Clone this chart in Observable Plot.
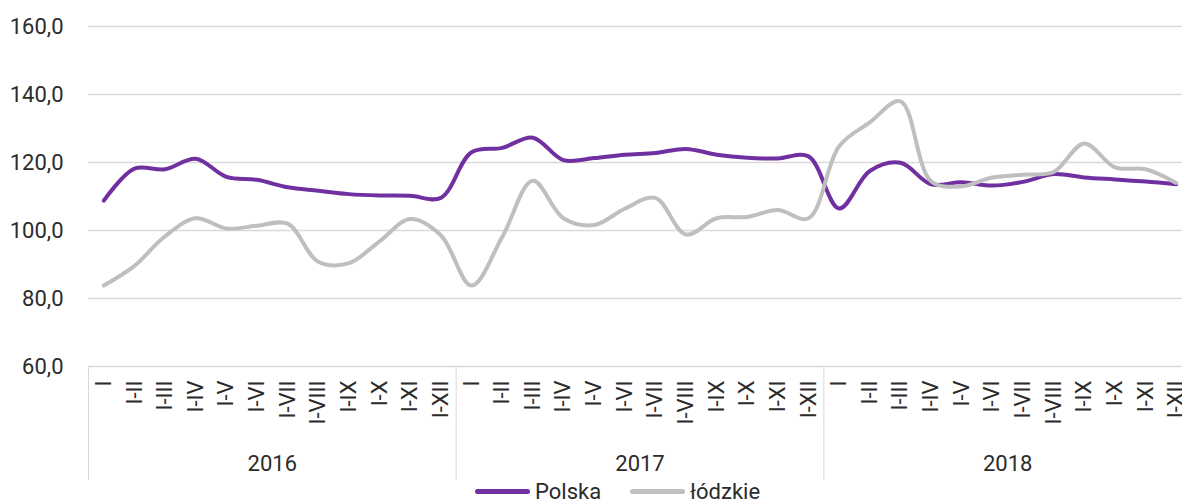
<!DOCTYPE html>
<html>
<head>
<meta charset="utf-8">
<script src="https://cdn.jsdelivr.net/npm/d3@7"></script>
<script src="https://cdn.jsdelivr.net/npm/@observablehq/plot@0.6"></script>
<style>
  html, body { margin: 0; padding: 0; background: #fff; }
  body { width: 1182px; height: 503px; overflow: hidden; font-family: Roboto, "Open Sans", sans-serif; color: #2b2b2b; }
  #legend { display: flex; align-items: center; height: 23px; margin-left: 475px; font-size: 22px; line-height: 23px; }
  .item { display: flex; align-items: center; margin-right: 29px; }
  .sw { width: 55px; height: 5px; border-radius: 2.5px; margin-right: 5px; }
</style>
</head>
<body>
<div id="chart"></div>
<div id="legend"></div>
<script>
const months = ["I","I-II","I-III","I-IV","I-V","I-VI","I-VII","I-VIII","I-IX","I-X","I-XI","I-XII"];
const years = ["2016","2017","2018"];
const seriesNames = ["Polska","łódzkie"];
const seriesColors = ["#7030A0","#BFBFBF"];
const yTicks = [60, 80, 100, 120, 140, 160];

const polska = [
  108.8, 118.2, 118.0, 121.1, 115.8, 114.9, 112.7, 111.7, 110.7, 110.3, 110.2, 109.6,
  123.0, 124.3, 127.3, 120.7, 121.3, 122.3, 122.8, 124.0, 122.3, 121.4, 121.2, 121.8,
  106.5, 117.5, 119.9, 113.6, 114.2, 113.2, 114.3, 116.6, 115.6, 115.0, 114.4, 113.6
];
const lodzkie = [
   83.8,  89.6,  98.3, 103.6, 100.6, 101.4, 102.0,  90.8,  90.4,  96.8, 103.4,  98.6,
   83.8,  98.0, 114.6, 103.6, 101.6, 106.4, 109.6,  98.8, 103.6, 104.0, 106.0, 103.6,
  124.8, 131.8, 138.0, 114.5, 113.0, 115.6, 116.4, 117.2, 125.6, 118.6, 118.0, 114.0
];

const rows = [];
const valuesBySeries = [polska, lodzkie];
seriesNames.forEach((s, k) => {
  valuesBySeries[k].forEach((v, i) => rows.push({series: s, i, value: v}));
});

const fmt = d => d.toFixed(1).replace(".", ",");
const n = years.length * months.length;

const chart = Plot.plot({
  width: 1182,
  height: 480,
  marginLeft: 88,
  marginRight: 0,
  marginTop: 26,
  marginBottom: 114,
  style: {fontFamily: "Roboto, 'Open Sans', sans-serif", fontSize: "22px", color: "#2b2b2b", background: "#fff"},
  x: {type: "linear", domain: [-0.5, n - 0.5], range: [88, 1191]},
  y: {domain: [60, 160]},
  color: {domain: seriesNames, range: seriesColors},
  marks: [
    Plot.gridY({ticks: yTicks, stroke: "#d9d9d9", strokeOpacity: 1, strokeWidth: 1.3}),
    Plot.axisY({ticks: yTicks, tickSize: 0, tickPadding: 25, tickFormat: fmt, fontSize: 22, label: null}),
    Plot.axisX({ticks: d3.range(n), tickSize: 0, tickPadding: 14, tickRotate: -90, tickFormat: i => months[i % months.length], fontSize: 22, label: null}),
    Plot.axisX({ticks: d3.range(0, n + 1, months.length).map(d => d - 0.5), tickSize: 114, stroke: "#d9d9d9", strokeOpacity: 1, tickFormat: () => "", label: null}),
    Plot.axisX({ticks: years.map((y, k) => k * months.length + (months.length - 1) / 2), tickSize: 0, tickPadding: 89, tickFormat: d => years[Math.round((d - 5.5) / 12)], fontSize: 22, label: null}),
    Plot.line(rows, {x: "i", y: "value", stroke: "series", z: "series", curve: "catmull-rom", strokeWidth: 4, strokeLinecap: "round", strokeLinejoin: "round"})
  ]
});
document.getElementById("chart").appendChild(chart);

const legend = document.getElementById("legend");
seriesNames.forEach((s, k) => {
  const item = document.createElement("div");
  item.className = "item";
  const sw = document.createElement("div");
  sw.className = "sw";
  sw.style.background = seriesColors[k];
  const t = document.createElement("span");
  t.textContent = s;
  item.appendChild(sw);
  item.appendChild(t);
  legend.appendChild(item);
});
</script>
</body>
</html>
